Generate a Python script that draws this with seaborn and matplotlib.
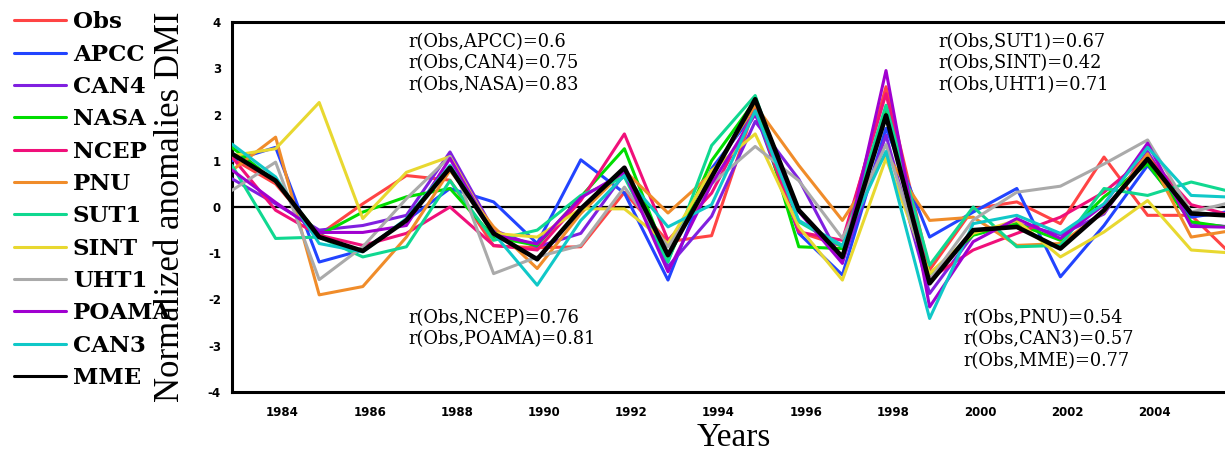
import matplotlib
matplotlib.use("Agg")
import matplotlib.pyplot as plt
import seaborn as sns
import pandas as pd
import numpy as np

years = list(range(1983, 2007))

obs   = [1.05, 0.50, -0.60, 0.07, 0.68, 0.58, -0.84, -0.88, -0.86, 0.32, -0.75, -0.62,
         2.19, -0.54, -0.85, 2.60, -1.36, -0.04, 0.11, -0.36, 1.08, -0.18, -0.18, -1.10]
apcc  = [1.00, 1.29, -1.19, -0.93, -0.29, 0.40, 0.11, -0.79, 1.02, 0.30, -1.58, 0.83,
         2.05, -0.57, -1.47, 1.70, -0.65, -0.11, 0.40, -1.51, -0.40, 0.90, -0.22, -0.08]
can4  = [0.61, 0.07, -0.50, -0.40, -0.18, 1.19, -0.50, -0.86, -0.57, 0.72, -1.29, -0.20,
         1.85, 0.60, -1.19, 1.55, -1.87, -0.60, -0.35, -0.60, -0.15, 1.20, -0.35, -0.44]
nasa  = [1.29, 0.55, -0.61, -0.11, 0.22, 0.40, -0.65, -0.83, 0.22, 1.26, -1.15, 1.00,
         2.30, -0.86, -0.90, 2.10, -1.45, -0.61, -0.36, -0.72, 0.22, 0.93, -0.32, -0.46]
ncep  = [1.08, -0.07, -0.61, -0.83, -0.57, 0.00, -0.83, -0.93, 0.14, 1.58, -0.72, 0.30,
         2.10, -0.54, -0.72, 2.45, -1.55, -0.93, -0.57, -0.22, 0.32, 1.10, 0.05, -0.20]
pnu   = [0.79, 1.51, -1.90, -1.72, -0.65, 0.79, -0.43, -1.33, -0.14, 0.79, -0.13, 0.72,
         2.20, 0.90, -0.29, 1.15, -0.29, -0.22, -0.83, -0.79, -0.11, 1.15, -0.65, -0.50]
sut1  = [0.90, -0.68, -0.65, -1.08, -0.86, 0.57, -0.72, -0.50, 0.25, 0.65, -1.19, 1.33,
         2.41, -0.32, -0.86, 2.20, -1.26, 0.00, -0.86, -0.83, 0.40, 0.25, 0.54, 0.31]
sint  = [1.11, 1.26, 2.26, -0.25, 0.75, 1.09, -0.57, -0.65, -0.04, -0.04, -0.79, 0.79,
         1.58, -0.43, -1.58, 1.05, -1.44, -0.57, -0.29, -1.08, -0.54, 0.14, -0.93, -1.00]
uht1  = [0.36, 0.97, -1.57, -0.86, 0.18, 1.09, -1.44, -1.08, -0.83, 0.43, -0.86, 0.50,
         1.31, 0.57, -0.68, 1.35, -1.58, -0.28, 0.32, 0.45, 0.93, 1.45, -0.11, 0.12]
poama = [0.80, 0.10, -0.55, -0.55, -0.40, 1.05, -0.60, -0.80, 0.20, 0.75, -1.40, 0.50,
         2.00, -0.10, -1.22, 2.95, -2.16, -0.75, -0.25, -0.68, 0.05, 1.38, -0.42, -0.44]
can3  = [1.36, 0.65, -0.79, -0.97, -0.25, 0.90, -0.57, -1.69, -0.29, 0.68, -0.43, 0.05,
         2.08, -0.29, -0.83, 1.20, -2.41, -0.36, -0.18, -0.57, 0.07, 1.29, 0.25, 0.21]
mme   = [1.15, 0.57, -0.65, -0.95, -0.29, 0.85, -0.57, -1.13, -0.04, 0.85, -1.04, 0.65,
         2.33, -0.07, -1.08, 1.98, -1.65, -0.50, -0.43, -0.90, -0.07, 1.04, -0.14, -0.19]

names = ["Obs", "APCC", "CAN4", "NASA", "NCEP", "PNU", "SUT1", "SINT", "UHT1",
         "POAMA", "CAN3", "MME"]
series = [obs, apcc, can4, nasa, ncep, pnu, sut1, sint, uht1, poama, can3, mme]
colors = ["#FF4444", "#2244FF", "#8020E0", "#00DD00", "#F0107A", "#F08C2A",
          "#10D890", "#E8D830", "#AAAAAA", "#A000D0", "#10C8C8", "#000000"]

tick_years = list(range(1984, 2005, 2))
ytick_vals = list(range(-4, 5))

corr_top_left = ["r(Obs,APCC)=0.6", "r(Obs,CAN4)=0.75", "r(Obs,NASA)=0.83"]
corr_top_right = ["r(Obs,SUT1)=0.67", "r(Obs,SINT)=0.42", "r(Obs,UHT1)=0.71"]
corr_bot_left = ["r(Obs,NCEP)=0.76", "r(Obs,POAMA)=0.81"]
corr_bot_right = ["r(Obs,PNU)=0.54", "r(Obs,CAN3)=0.57", "r(Obs,MME)=0.77"]

df = pd.DataFrame({"year": np.tile(years, len(names)),
                   "value": np.concatenate(series),
                   "model": np.repeat(names, len(years))})

sns.set_style("white")
plt.rcParams["text.color"] = "black"

W, H = 1225, 455
fig = plt.figure(figsize=(W / 100, H / 100), dpi=100)
ax_left, ax_right, ax_top, ax_bot = 232, 1240, 22, 392
ax = fig.add_axes([ax_left / W, 1 - ax_bot / H, (ax_right - ax_left) / W, (ax_bot - ax_top) / H])

px_per_year = 43.6
ax.set_xlim(1983, 1983 + (ax_right - ax_left) / px_per_year)
ax.set_ylim(-4, 4)

ax.axhline(0, color="black", lw=1.6, zorder=1)

for name, col in zip(names, colors):
    sub = df[df["model"] == name]
    lw = 3.3 if name == "MME" else 2.2
    sns.lineplot(data=sub, x="year", y="value", color=col, lw=lw, ax=ax,
                 label=name, zorder=5 if name == "MME" else 3)

ax.set_xticks([y + 0.16 for y in tick_years])
ax.set_xticklabels([str(y) for y in tick_years])
ax.set_yticks(ytick_vals)
ax.set_yticklabels([str(v) for v in ytick_vals])
ax.tick_params(axis="both", direction="out", length=5, width=2, colors="black",
               labelsize=8.5, pad=3)
ax.tick_params(axis="x", pad=5)
for lab in ax.get_xticklabels() + ax.get_yticklabels():
    lab.set_fontweight("bold")
    lab.set_family("DejaVu Sans")

for sp in ax.spines.values():
    sp.set_linewidth(2.2)
    sp.set_color("black")

ax.set_xlabel("Years", fontsize=24, family="Liberation Serif", color="black")
ax.xaxis.set_label_coords(0.498, -0.082)
ax.set_ylabel("Normalized anomalies DMI", fontsize=25, family="Liberation Serif",
              color="black")
ax.yaxis.set_label_coords(-0.045, 0.5)

leg = ax.legend(loc="upper left", bbox_to_anchor=(0.008, 0.985),
                bbox_transform=fig.transFigure, frameon=False,
                prop={"family": "DejaVu Serif", "weight": "bold", "size": 16.5},
                handlelength=2.25, handletextpad=0.3, labelspacing=0.45,
                borderpad=0.2, borderaxespad=0)
for h in leg.get_lines():
    h.set_linewidth(2.2)
for t in leg.get_texts():
    t.set_color("black")

def block(lines, x_px, y_px):
    for i, t in enumerate(lines):
        fig.text(x_px / W, 1 - (y_px + i * 21.5) / H, t, ha="left", va="center",
                 fontsize=12.8, family="DejaVu Serif", color="black")

block(corr_top_left, 408, 42)
block(corr_top_right, 938, 42)
block(corr_bot_left, 408, 318)
block(corr_bot_right, 963, 318)

fig.savefig("out.png", dpi=100, facecolor="white")
